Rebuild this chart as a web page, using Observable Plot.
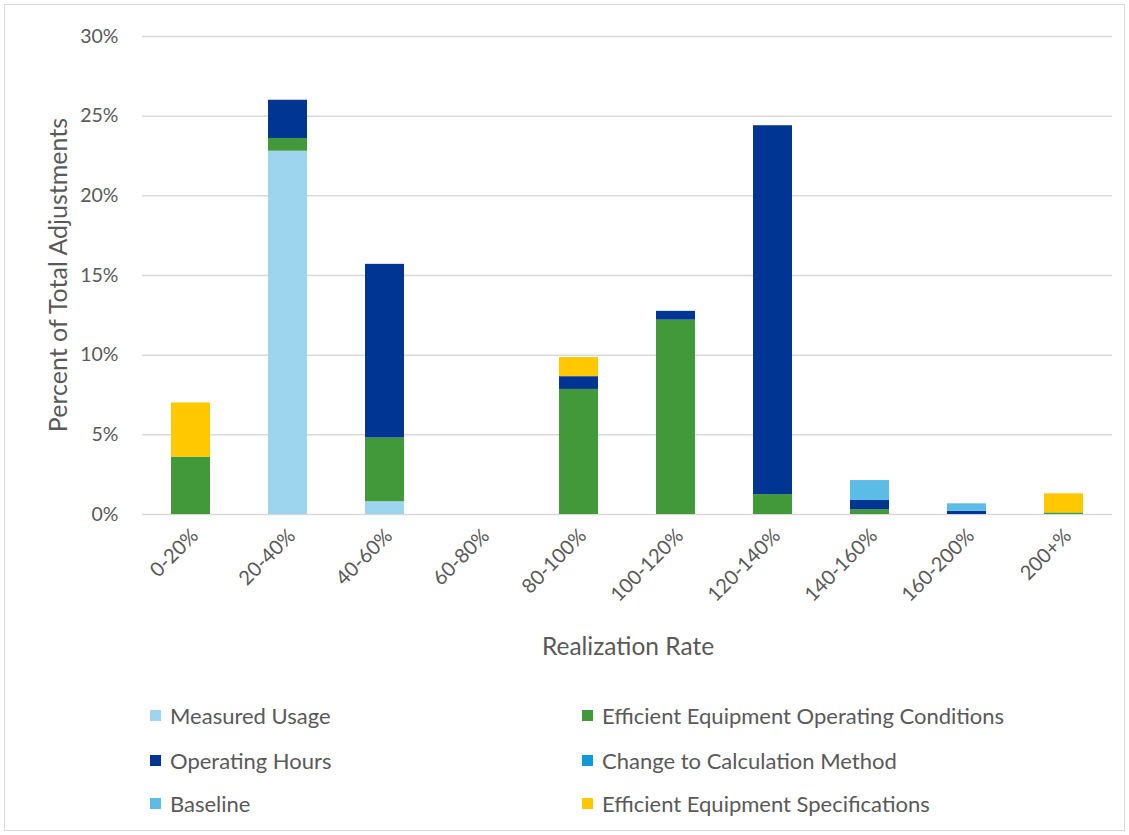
<!DOCTYPE html>
<html>
<head>
<meta charset="utf-8">
<script src="https://cdn.jsdelivr.net/npm/d3@7"></script>
<script src="https://cdn.jsdelivr.net/npm/@observablehq/plot@0.6"></script>
<style>
  html, body { margin: 0; padding: 0; background: #fff; }
  #wrap { position: relative; width: 1129px; height: 835px; overflow: hidden; font-family: Lato, "Open Sans", sans-serif; color: #595959; }
  #frame { position: absolute; left: 4px; top: 4px; width: 1121px; height: 827px; border: 1px solid #d9d9d9; box-sizing: border-box; }
  #chart { position: absolute; left: 0; top: 0; }
  .ytitle { position: absolute; left: 57px; top: 275px; transform: translate(-50%, -50%) rotate(-90deg); font-size: 25px; white-space: nowrap; }
  .xtitle { position: absolute; left: 628px; top: 645px; transform: translate(-50%, -50%); font-size: 24.5px; white-space: nowrap; }
  .leg { position: absolute; font-size: 22px; white-space: nowrap; display: flex; align-items: center; }
  .sw { width: 11px; height: 11px; margin-right: 9px; display: inline-block; }
</style>
</head>
<body>
<div id="wrap">
  <div id="frame"></div>
  <div id="chart"></div>
  <div class="ytitle">Percent of Total Adjustments</div>
  <div class="xtitle">Realization Rate</div>
  <div id="legend"></div>
</div>
<script>
const categories = ["0-20%", "20-40%", "40-60%", "60-80%", "80-100%", "100-120%", "120-140%", "140-160%", "160-200%", "200+%"];
const seriesNames = ["Measured Usage", "Efficient Equipment Operating Conditions", "Operating Hours", "Change to Calculation Method", "Baseline", "Efficient Equipment Specifications"];
const seriesColors = ["#9dd4ee", "#41993a", "#003594", "#0f9bd7", "#5cbce6", "#ffc800"];
const measuredUsage = [0, 22.8, 0.8, 0, 0, 0, 0, 0, 0, 0];
const effOpConditions = [3.6, 0.8, 4.0, 0, 7.85, 12.2, 1.25, 0.3, 0, 0.1];
const operatingHours = [0, 2.4, 10.9, 0, 0.8, 0.55, 23.15, 0.58, 0.2, 0];
const changeCalcMethod = [0, 0, 0, 0, 0, 0, 0, 0, 0, 0];
const baseline = [0, 0, 0, 0, 0, 0, 0, 1.25, 0.47, 0];
const effSpecs = [3.4, 0, 0, 0, 1.2, 0, 0, 0, 0, 1.2];
const yTicks = [0, 5, 10, 15, 20, 25, 30];

const seriesValues = [measuredUsage, effOpConditions, operatingHours, changeCalcMethod, baseline, effSpecs];
const data = [];
seriesNames.forEach((s, i) => {
  categories.forEach((c, j) => {
    data.push({ category: c, series: s, value: seriesValues[i][j] });
  });
});

const chart = Plot.plot({
  width: 1129,
  height: 670,
  marginTop: 36,
  marginBottom: 156,
  marginLeft: 142,
  marginRight: 17,
  style: { fontFamily: "Lato, 'Open Sans', sans-serif", fontSize: "19px", color: "#595959", background: "transparent" },
  x: { domain: categories, paddingInner: 0.6, paddingOuter: 0.3, label: null },
  y: { domain: [0, 30], label: null },
  color: { domain: seriesNames, range: seriesColors },
  marks: [
    Plot.ruleY(yTicks, { stroke: "#d9d9d9", strokeWidth: 1.5 }),
    Plot.barY(data, Plot.stackY({ order: seriesNames }, { x: "category", y: "value", fill: "series" })),
    Plot.axisY(yTicks, { tickSize: 0, tickPadding: 24, tickFormat: d => d + "%", fill: "#595959", label: null, fontSize: 19.5 }),
    Plot.axisX({ tickSize: 0, tickRotate: -45, tickPadding: 18, dx: 4, fill: "#595959", label: null, fontSize: 20 })
  ]
});
document.getElementById("chart").appendChild(chart);

const legendPos = [[150, 716], [582, 716], [150, 761], [582, 761], [150, 804], [582, 804]];
const legend = document.getElementById("legend");
seriesNames.forEach((s, i) => {
  const d = document.createElement("div");
  d.className = "leg";
  d.style.left = legendPos[i][0] + "px";
  d.style.top = (legendPos[i][1] - 14) + "px";
  const sw = document.createElement("span");
  sw.className = "sw";
  sw.style.background = seriesColors[i];
  d.appendChild(sw);
  d.appendChild(document.createTextNode(s));
  legend.appendChild(d);
});
</script>
</body>
</html>
